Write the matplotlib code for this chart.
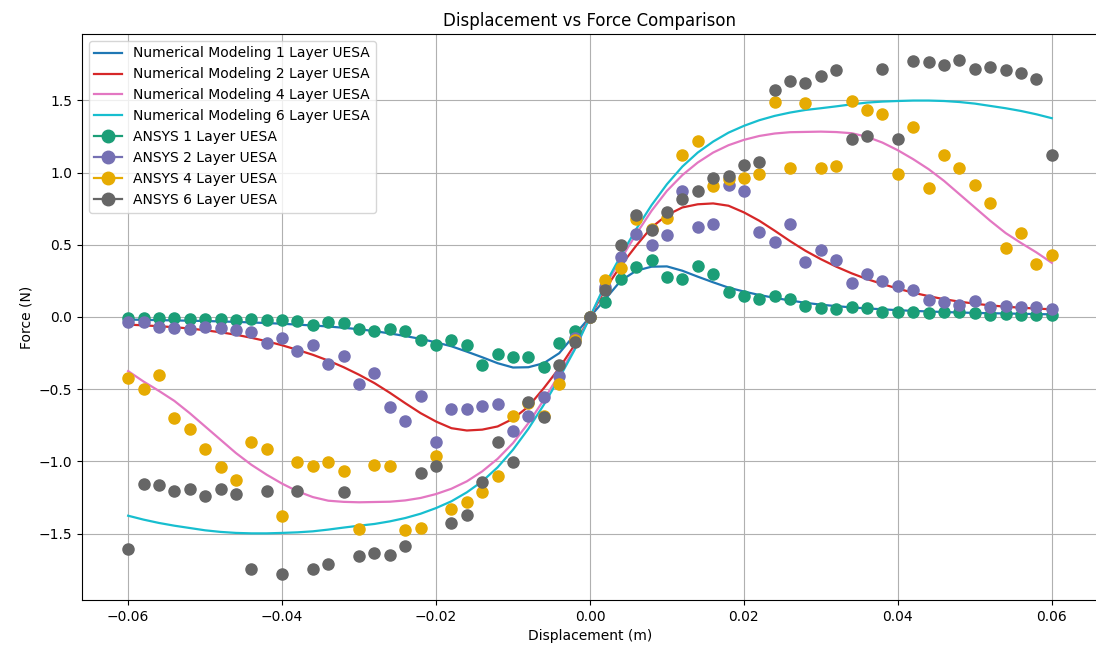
import numpy as np
import matplotlib
matplotlib.use("Agg")
import matplotlib.pyplot as plt
from matplotlib.lines import Line2D

# displacement grid (m)
disp = np.linspace(-0.06, 0.06, 61)

# numerical model curves (N)
num_1 = [-0.018, -0.020, -0.022, -0.024, -0.026, -0.028, -0.031, -0.034, -0.038, -0.042,
         -0.047, -0.053, -0.059, -0.066, -0.075, -0.085, -0.098, -0.114, -0.132, -0.152,
         -0.176, -0.203, -0.24, -0.279, -0.32, -0.35, -0.348, -0.32, -0.251, -0.124,
         0.0,
         0.124, 0.251, 0.32, 0.348, 0.35, 0.32, 0.279, 0.24, 0.203, 0.176,
         0.152, 0.132, 0.114, 0.098, 0.085, 0.075, 0.066, 0.059, 0.053, 0.047,
         0.042, 0.038, 0.034, 0.031, 0.028, 0.026, 0.024, 0.022, 0.020, 0.018]
num_2 = [-0.053, -0.058, -0.064, -0.071, -0.080, -0.092, -0.106, -0.123, -0.144, -0.168,
         -0.196, -0.228, -0.262, -0.302, -0.348, -0.400, -0.458, -0.525, -0.597, -0.666,
         -0.724, -0.77, -0.786, -0.78, -0.758, -0.705, -0.62, -0.493, -0.355, -0.194,
         0.0,
         0.194, 0.355, 0.493, 0.62, 0.705, 0.758, 0.78, 0.786, 0.77, 0.724,
         0.666, 0.597, 0.525, 0.458, 0.400, 0.348, 0.302, 0.262, 0.228, 0.196,
         0.168, 0.144, 0.123, 0.106, 0.092, 0.080, 0.071, 0.064, 0.058, 0.053]
num_4 = [-0.375, -0.447, -0.512, -0.581, -0.666, -0.758, -0.85, -0.942, -1.023, -1.092,
         -1.154, -1.207, -1.247, -1.272, -1.28, -1.283, -1.281, -1.279, -1.27, -1.253,
         -1.226, -1.189, -1.138, -1.069, -0.982, -0.873, -0.735, -0.574, -0.40, -0.217,
         0.0,
         0.217, 0.40, 0.574, 0.735, 0.873, 0.982, 1.069, 1.138, 1.189, 1.226,
         1.253, 1.27, 1.279, 1.281, 1.283, 1.28, 1.272, 1.247, 1.207, 1.154,
         1.092, 1.023, 0.942, 0.85, 0.758, 0.666, 0.581, 0.512, 0.447, 0.375]
num_6 = [-1.376, -1.403, -1.426, -1.445, -1.461, -1.477, -1.488, -1.495, -1.498, -1.498,
         -1.495, -1.491, -1.484, -1.472, -1.458, -1.445, -1.433, -1.415, -1.392, -1.362,
         -1.323, -1.276, -1.214, -1.138, -1.041, -0.919, -0.774, -0.608, -0.424, -0.228,
         0.0,
         0.228, 0.424, 0.608, 0.774, 0.919, 1.041, 1.138, 1.214, 1.276, 1.323,
         1.362, 1.392, 1.415, 1.433, 1.445, 1.458, 1.472, 1.484, 1.491, 1.495,
         1.498, 1.498, 1.495, 1.488, 1.477, 1.461, 1.445, 1.426, 1.403, 1.376]

# ANSYS simulation results (N)
ansys_1 = [-0.005, -0.005, -0.008, -0.008, -0.014, -0.014, -0.014, -0.02, -0.014, -0.02,
           -0.024, -0.03, -0.053, -0.037, -0.042, -0.081, -0.097, -0.081, -0.097, -0.162,
           -0.197, -0.162, -0.192, -0.331, -0.255, -0.28, -0.28, -0.347, -0.178, -0.097,
           0.0,
           0.101, 0.263, 0.348, 0.394, 0.279, 0.263, 0.35, 0.297, 0.171, 0.147,
           0.124, 0.147, 0.124, 0.078, 0.062, 0.055, 0.067, 0.062, 0.037, 0.032,
           0.032, 0.025, 0.032, 0.032, 0.025, 0.014, 0.021, 0.014, 0.014, 0.014]
ansys_2 = [-0.035, -0.035, -0.069, -0.076, -0.086, -0.069, -0.076, -0.093, -0.104, -0.178,
           -0.146, -0.238, -0.192, -0.324, -0.271, -0.463, -0.387, -0.625, -0.722, -0.549,
           -0.868, -0.637, -0.637, -0.618, -0.606, -0.792, -0.683, -0.556, -0.41, -0.146,
           0.0,
           0.205, 0.412, 0.574, 0.498, 0.569, 0.873, 0.62, 0.643, 0.912, 0.869,
           0.59, 0.521, 0.643, 0.382, 0.465, 0.396, 0.235, 0.297, 0.251, 0.212,
           0.189, 0.12, 0.101, 0.085, 0.113, 0.067, 0.078, 0.067, 0.067, 0.055]
ansys_4 = [-0.424, -0.502, -0.40, -0.697, -0.775, -0.917, -1.042, -1.127, -0.868, -0.917,
           -1.377, -1.007, -1.03, -1.007, -1.065, -1.47, -1.027, -1.035, -1.475, -1.461,
           -0.961, -1.331, -1.28, -1.21, -1.104, -0.683, -0.595, -0.683, -0.465, -0.162,
           0.0,
           0.258, 0.339, 0.677, 0.61, 0.682, 1.12, 1.219, 0.908, 0.954, 0.961,
           0.988, 1.488, 1.03, 1.484, 1.03, 1.046, 1.495, 1.433, 1.403, 0.993,
           1.318, 0.892, 1.122, 1.03, 0.915, 0.79, 0.477, 0.581, 0.366, 0.429]
ansys_6 = [-1.609, -1.157, -1.164, -1.204, -1.188, -1.238, -1.188, -1.227, -1.743, -1.204,
           -1.782, -1.204, -1.743, -1.713, -1.211, -1.655, -1.637, -1.648, -1.586, -1.081,
           -1.035, -1.424, -1.368, -1.141, -0.863, -1.007, -0.59, -0.69, -0.331, -0.174,
           0.0,
           0.187, 0.498, 0.705, 0.604, 0.728, 0.816, 0.869, 0.961, 0.977, 1.055,
           1.074, 1.569, 1.636, 1.62, 1.666, 1.712, 1.235, 1.253, 1.719, 1.23,
           1.774, 1.765, 1.742, 1.781, 1.719, 1.728, 1.712, 1.689, 1.647, 1.12]

line_labels = ["Numerical Modeling 1 Layer UESA", "Numerical Modeling 2 Layer UESA",
               "Numerical Modeling 4 Layer UESA", "Numerical Modeling 6 Layer UESA"]
ansys_labels = ["ANSYS 1 Layer UESA", "ANSYS 2 Layer UESA",
                "ANSYS 4 Layer UESA", "ANSYS 6 Layer UESA"]
line_colors = ["tab:blue", "tab:red", "tab:pink", "tab:cyan"]
ansys_colors = ["#1b9e77", "#7570b3", "#e6ab02", "#666666"]

fig = plt.figure(figsize=(10.96, 6.53), dpi=100)
ax = fig.add_axes([0.0748, 0.081, 0.927, 0.867])

handles = []
for ys, c, lab in zip([num_1, num_2, num_4, num_6], line_colors, line_labels):
    h, = ax.plot(disp, ys, color=c, lw=1.6, label=lab)
    handles.append(h)

for ys, c, lab in zip([ansys_1, ansys_2, ansys_4, ansys_6], ansys_colors, ansys_labels):
    ax.scatter(disp, ys, color=c, s=64, zorder=3)
    handles.append(Line2D([0], [0], color=c, marker="o", markersize=9, lw=1.6, label=lab))

ax.set_title("Displacement vs Force Comparison")
ax.set_xlabel("Displacement (m)")
ax.set_ylabel("Force (N)")
ax.grid(True)
ax.legend(handles=handles, loc="upper left")

fig.savefig("out.png", dpi=100)
